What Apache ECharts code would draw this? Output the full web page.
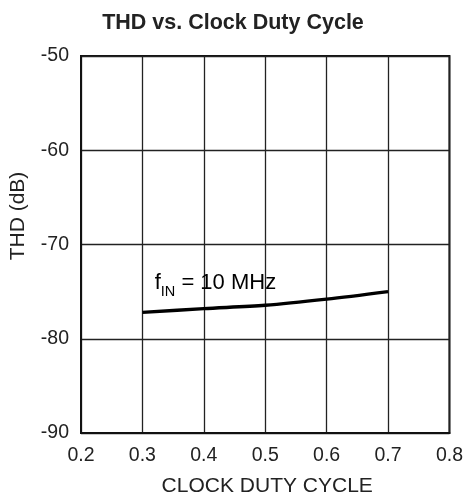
<!DOCTYPE html>
<html><head><meta charset="utf-8">
<script src="https://cdn.jsdelivr.net/npm/echarts@6/dist/echarts.min.js"></script>
<style>html,body{margin:0;padding:0;background:#fff}#c{width:466px;height:502px}</style>
</head><body><div id="c"></div>
<script>
const dutyCycle = [0.3, 0.4, 0.5, 0.6, 0.7];
const thd10MHz = [-77.2, -76.8, -76.45, -75.8, -75.0];
const xTicks = [0.2, 0.3, 0.4, 0.5, 0.6, 0.7, 0.8];
const yTicks = [-90, -80, -70, -60, -50];
const seriesLabel = 'f_IN = 10 MHz';

const font = '"Liberation Sans", Arial, sans-serif';
const chart = echarts.init(document.getElementById('c'), null, {renderer: 'canvas'});
const grid = {left: 81, right: 16, top: 56, bottom: 67};
chart.setOption({
  animation: false,
  backgroundColor: '#fff',
  title: {text: 'THD vs. Clock Duty Cycle', left: 'center', top: 7,
    textStyle: {fontFamily: font, fontWeight: 'bold', fontSize: 21.5, color: '#222'}},
  grid: Object.assign({show: true, borderColor: '#111', borderWidth: 2}, grid),
  xAxis: {type: 'value', min: xTicks[0], max: xTicks[xTicks.length-1], interval: 0.1,
    axisLine: {show: true, lineStyle: {color: '#111', width: 2}},
    axisTick: {show: false},
    splitLine: {show: true, lineStyle: {color: '#222', width: 1.3}},
    axisLabel: {fontFamily: font, fontSize: 19.5, color: '#222', margin: 13,
      formatter: v => v.toFixed(1)},
    name: 'CLOCK DUTY CYCLE', nameLocation: 'middle', nameGap: 43,
    nameTextStyle: {fontFamily: font, fontSize: 21, color: '#222', padding: [0, 0, 0, 4]}},
  yAxis: {type: 'value', min: yTicks[0], max: yTicks[yTicks.length-1], interval: 10,
    axisLine: {show: true, lineStyle: {color: '#111', width: 2}},
    axisTick: {show: false},
    splitLine: {show: true, lineStyle: {color: '#222', width: 1.3}},
    axisLabel: {fontFamily: font, fontSize: 19.5, color: '#222', margin: 12}},
  series: [{type: 'line', data: dutyCycle.map((x, i) => [x, thd10MHz[i]]),
    smooth: 0.3, symbol: 'none', lineStyle: {color: '#000', width: 3.4}}]
});
const p = chart.convertToPixel({gridIndex: 0}, [0.32, -75.25]);
const parts = seriesLabel.split('_');
const rest = parts[1].split(' ');
chart.setOption({graphic: [
  {type: 'text', rotation: Math.PI/2, position: [18, 216],
    style: {text: 'THD (dB)', font: '21px ' + font, fill: '#222', align: 'center', verticalAlign: 'middle'}},
  {type: 'text', position: p,
    style: {text: '{a|' + parts[0] + '}{b|' + rest[0] + '}{a| ' + rest.slice(1).join(' ') + '}',
      rich: {a: {fontFamily: font, fontSize: 22, color: '#222', verticalAlign: 'bottom'},
             b: {fontFamily: font, fontSize: 14.5, color: '#222', padding: [0,0,-6,0], verticalAlign: 'bottom'}},
      verticalAlign: 'bottom'}}
]});
</script></body></html>
